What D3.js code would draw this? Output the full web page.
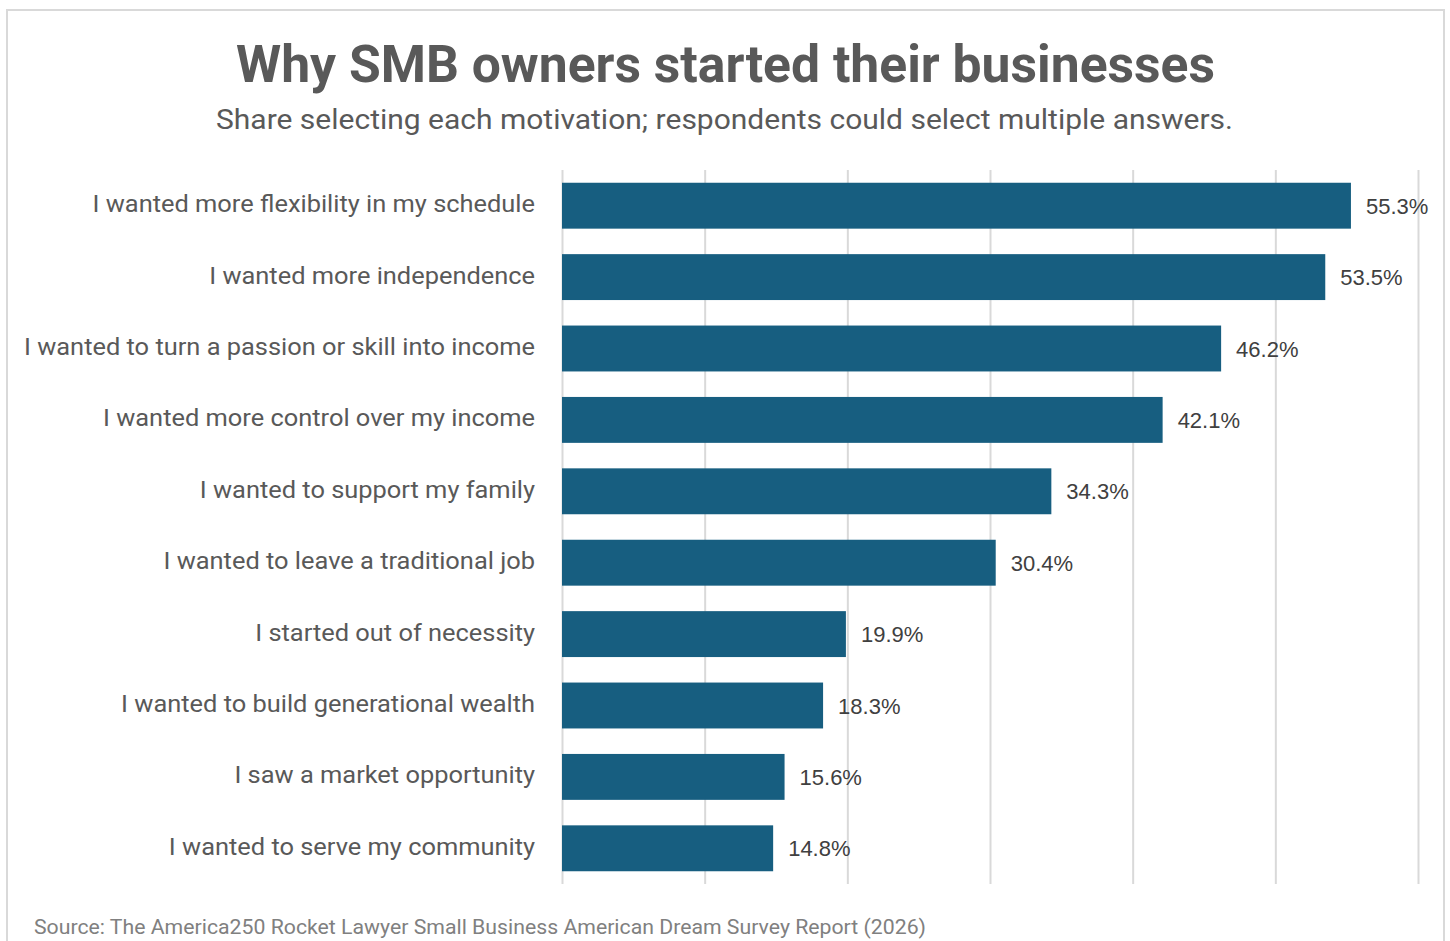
<!DOCTYPE html>
<html>
<head>
<meta charset="utf-8">
<script src="https://cdn.jsdelivr.net/npm/d3@7"></script>
<style>
  html, body { margin: 0; padding: 0; background: #ffffff; }
  svg { display: block; }
</style>
</head>
<body>
<svg id="chart" width="1450" height="941"></svg>
<script>
// Survey motivations, in display order (top to bottom)
const categories = [
  "I wanted more flexibility in my schedule",
  "I wanted more independence",
  "I wanted to turn a passion or skill into income",
  "I wanted more control over my income",
  "I wanted to support my family",
  "I wanted to leave a traditional job",
  "I started out of necessity",
  "I wanted to build generational wealth",
  "I saw a market opportunity",
  "I wanted to serve my community"
];
const shares = [55.3, 53.5, 46.2, 42.1, 34.3, 30.4, 19.9, 18.3, 15.6, 14.8];
const xTicks = [0, 10, 20, 30, 40, 50, 60];

const titleText = "Why SMB owners started their businesses";
const subtitleText = "Share selecting each motivation; respondents could select multiple answers.";
const sourceText = "Source: The America250 Rocket Lawyer Small Business American Dream Survey Report (2026)";

const plot = { left: 562, right: 1418, top: 170, bottom: 884 };
const barColor = "#175e80";
const gridColor = "#d9d9d9";
const labelFont = "Roboto, 'Noto Sans', sans-serif";

const svg = d3.select("#chart");

// Outer frame
svg.append("rect")
  .attr("x", 7).attr("y", 10)
  .attr("width", 1437).attr("height", 960)
  .attr("fill", "#ffffff")
  .attr("stroke", gridColor).attr("stroke-width", 2);

const x = d3.scaleLinear().domain([0, 60]).range([plot.left, plot.right]);
const y = d3.scaleBand().domain(categories).range([plot.top, plot.bottom])
  .paddingInner(0.357).paddingOuter(0.1785);

// Vertical gridlines via an axis with full-height ticks
const gridAxis = d3.axisBottom(x).tickValues(xTicks)
  .tickSize(plot.bottom - plot.top).tickFormat("");
const grid = svg.append("g")
  .attr("transform", `translate(0,${plot.top})`)
  .call(gridAxis);
grid.select(".domain").remove();
grid.selectAll(".tick line").attr("stroke", gridColor).attr("stroke-width", 2);

// Bars
svg.append("g").selectAll("rect")
  .data(shares)
  .join("rect")
  .attr("x", x(0))
  .attr("y", (d, i) => y(categories[i]))
  .attr("width", d => x(d) - x(0))
  .attr("height", y.bandwidth())
  .attr("fill", barColor);

// Value labels
svg.append("g").selectAll("text")
  .data(shares)
  .join("text")
  .attr("x", d => x(d) + 15)
  .attr("y", (d, i) => y(categories[i]) + y.bandwidth() / 2 + 8)
  .attr("font-family", "'Liberation Sans', Arial, sans-serif")
  .attr("font-size", 22)
  .attr("fill", "#404040")
  .text(d => d.toFixed(1) + "%");

// Category labels via a left axis
const yAxis = d3.axisLeft(y).tickSize(0).tickPadding(0);
const yg = svg.append("g")
  .attr("transform", `translate(${plot.left - 27},0)`)
  .call(yAxis);
yg.select(".domain").remove();
yg.selectAll(".tick text")
  .attr("font-family", labelFont)
  .attr("font-size", 24)
  .attr("fill", "#595959")
  .attr("dy", "0.27em");

// Squeeze labels uniformly so the longest one spans the label column
let maxW = 0;
yg.selectAll(".tick text").each(function () {
  maxW = Math.max(maxW, this.getComputedTextLength());
});
const k = 511 / maxW;
yg.selectAll(".tick text").each(function () {
  const w = this.getComputedTextLength();
  d3.select(this).attr("textLength", w * k).attr("lengthAdjust", "spacingAndGlyphs");
});

// Helper for headline texts fitted to a given width
function fitted(sel, width) {
  sel.attr("textLength", width).attr("lengthAdjust", "spacingAndGlyphs");
  return sel;
}

fitted(svg.append("text")
  .attr("x", 725.5).attr("y", 82)
  .attr("text-anchor", "middle")
  .attr("font-family", "Roboto, 'Noto Sans', sans-serif")
  .attr("font-weight", 700)
  .attr("font-size", 52)
  .attr("fill", "#595959")
  .text(titleText), 979);

fitted(svg.append("text")
  .attr("x", 724.5).attr("y", 129)
  .attr("text-anchor", "middle")
  .attr("font-family", labelFont)
  .attr("font-size", 28)
  .attr("fill", "#595959")
  .text(subtitleText), 1017);

fitted(svg.append("text")
  .attr("x", 34).attr("y", 934)
  .attr("font-family", labelFont)
  .attr("font-size", 21)
  .attr("fill", "#808080")
  .text(sourceText), 892);
</script>
</body>
</html>
